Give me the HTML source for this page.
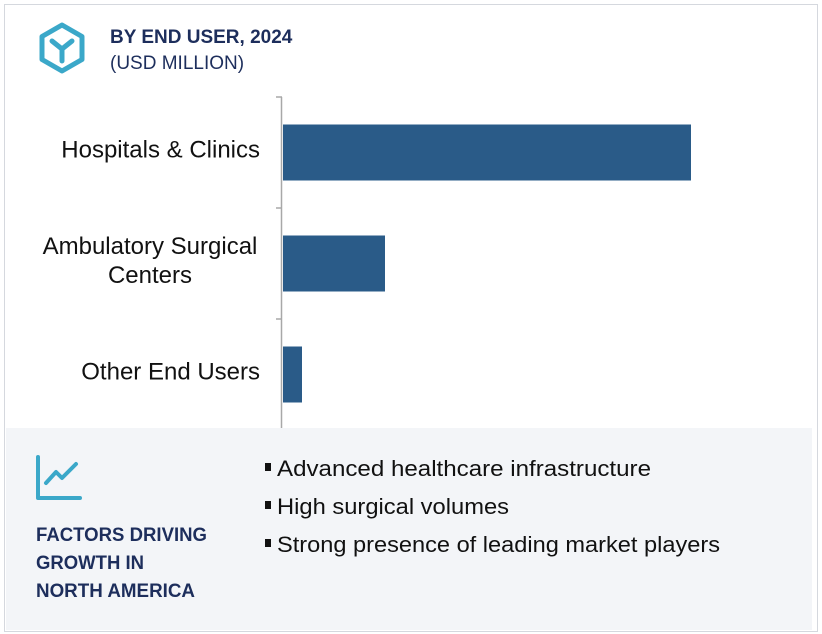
<!DOCTYPE html>
<html><head><meta charset="utf-8"><style>
body{margin:0;background:#fff;font-family:"Liberation Sans",sans-serif;}
#wrap{position:relative;width:822px;height:634px;overflow:hidden;}
</style></head><body>
<div id="wrap">
<svg width="822" height="634" xmlns="http://www.w3.org/2000/svg" id="svg">
<rect x="4.5" y="4.5" width="813" height="627" fill="#fff" stroke="#d5d8de"/>
<g>
<polygon points="62,25 82,36.5 82,59.5 62,71 42,59.5 42,36.5" fill="none" stroke="#3ba8c9" stroke-width="5" stroke-linejoin="round"/>
<path d="M52,41 L62,49 L72,41 M62,49 L62,61" fill="none" stroke="#3ba8c9" stroke-width="5" stroke-linecap="round"/>
</g>
<text x="110" y="43" font-size="19" font-weight="bold" fill="#1d2e5c">BY END USER, 2024</text>
<text x="110" y="69" font-size="19" fill="#1d2e5c">(USD MILLION)</text>
<g id="plot"></g>
<rect x="6" y="428" width="806" height="202" fill="#f3f5f8"/>
<g fill="none" stroke="#3ba8c9" stroke-width="4" stroke-linecap="round" stroke-linejoin="round">
<path d="M38,457 L38,498 L80,498"/>
<path d="M46,483 L56,472 L62,478 L76,464"/>
</g>
<g font-size="19" font-weight="bold" fill="#1d2e5c">
<text x="36" y="541" textLength="171" lengthAdjust="spacingAndGlyphs">FACTORS DRIVING</text>
<text x="36" y="569" textLength="108" lengthAdjust="spacingAndGlyphs">GROWTH IN</text>
<text x="36" y="597" textLength="159" lengthAdjust="spacingAndGlyphs">NORTH AMERICA</text>
</g>
<g font-size="22" fill="#111">
<rect x="265" y="463" width="6" height="8" fill="#111"/><text x="277" y="476" textLength="374" lengthAdjust="spacingAndGlyphs">Advanced healthcare infrastructure</text>
<rect x="265" y="501" width="6" height="8" fill="#111"/><text x="277" y="514" textLength="232" lengthAdjust="spacingAndGlyphs">High surgical volumes</text>
<rect x="265" y="539" width="6" height="8" fill="#111"/><text x="277" y="552" textLength="443" lengthAdjust="spacingAndGlyphs">Strong presence of leading market players</text>
</g>
</svg>
</div>
<script>
const categories=[["Hospitals & Clinics"],["Ambulatory Surgical","Centers"],["Other End Users"]];
const values=[816,204,38];
const NS="http://www.w3.org/2000/svg";
const g=document.getElementById('plot');
const x0=283,pxPerUnit=0.5,top0=97,band=111;
function xs(v){return x0+v*pxPerUnit;}
function mk(t,a){const e=document.createElementNS(NS,t);for(const k in a)e.setAttribute(k,a[k]);g.appendChild(e);return e;}
const ax=mk('line',{x1:281.5,y1:top0,x2:281.5,y2:top0+band*3,stroke:'#a8a8a8','stroke-width':1.5});


for(let i=0;i<=3;i++){const t=mk('line',{x1:276,x2:282,y1:top0+band*i,y2:top0+band*i,stroke:'#a8a8a8','stroke-width':1.5});

}
categories.forEach((c,i)=>{
 const yc=top0+band*i+band/2;
 const b=mk('rect',{x:x0,y:yc-28,width:xs(values[i])-x0,height:56,fill:'#2a5b88'});
 
 
 const t=mk('text',{'font-size':24,fill:'#111'});
 
 
 c.forEach((ln,j)=>{const s=document.createElementNS(NS,'tspan');
  if(c.length>1){s.setAttribute('x',150);s.setAttribute('text-anchor','middle');}
  else{s.setAttribute('x',260);s.setAttribute('text-anchor','end');}
  s.setAttribute('y',yc+5+(j-(c.length-1)/2)*29);s.textContent=ln;t.appendChild(s);});
});
</script>
</body></html>
